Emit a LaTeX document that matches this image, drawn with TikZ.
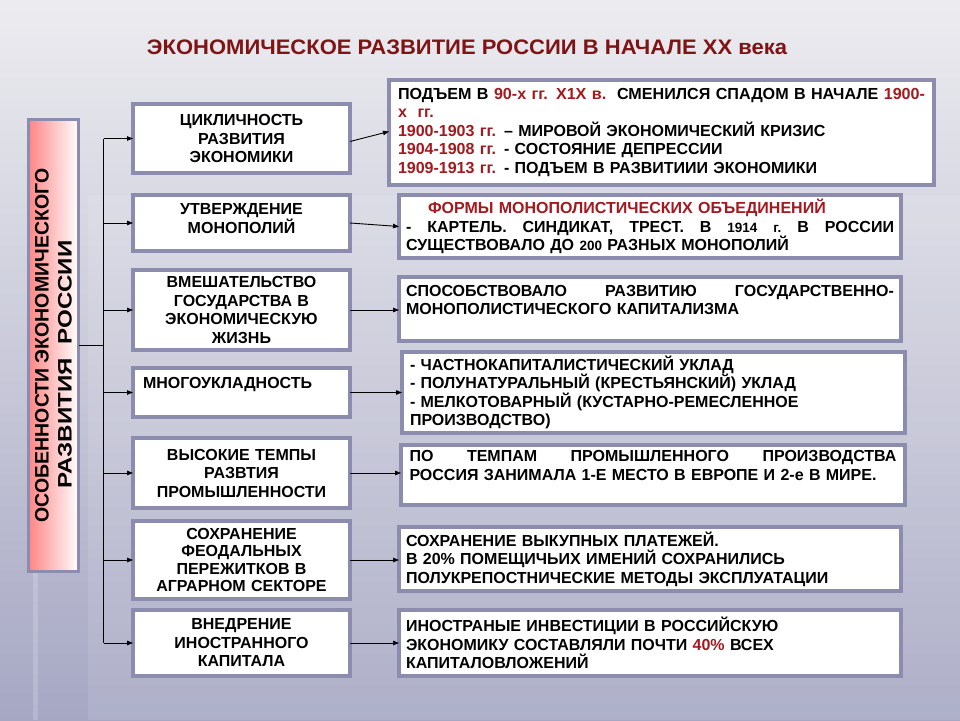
\documentclass[tikz,border=0pt]{standalone}
\usepackage{fontspec}
\setmainfont{Liberation Sans}
\usetikzlibrary{arrows.meta,calc}
\definecolor{bgtop}{HTML}{ECECF0}
\definecolor{bgbot}{HTML}{A6A7C3}
\definecolor{boxborder}{HTML}{8C8CAE}
\definecolor{titlered}{HTML}{7E1416}
\definecolor{txtred}{HTML}{A3191E}
\definecolor{sidered}{HTML}{FF8585}
\newcommand{\rd}[1]{\textcolor{txtred}{#1}}
\newcommand{\fitw}[2]{\resizebox{#1}{\height}{#2}}
\newcommand{\jline}[2]{\leavevmode\hbox to #1{#2}}
\newcommand{\sm}{\fontsize{13.5}{18}\selectfont}
\begin{document}
\begin{tikzpicture}[x=1pt,y=-1pt,
  box/.style={draw=boxborder,line width=3.5pt,fill=white,anchor=north west,inner sep=0pt,outer sep=0pt},
  lbox/.style={box,minimum width=217pt,align=center,text width=205pt,font=\fontsize{16}{18.5}\selectfont\bfseries},
  rbox/.style={box,align=left,font=\fontsize{16}{18.5}\selectfont\bfseries},
  arr/.style={-{Triangle[length=6pt,width=4.5pt]},line width=0.9pt,black}]
% background
\shade[top color=bgtop,bottom color=bgbot] (0,0) rectangle (960,720);
\fill[white,opacity=0.10] (88,195) rectangle (960,720);
\fill[white,opacity=0.18] (33,573) rectangle (38,720);
\useasboundingbox (0,0) rectangle (960,720);
% title
\node[font=\fontsize{21}{24}\selectfont\bfseries,text=titlered] (title) at (467,47)
  {\fitw{640pt}{ЭКОНОМИЧЕСКОЕ РАЗВИТИЕ РОССИИ В НАЧАЛЕ XX века}};
% side box
\node[draw=boxborder,line width=3pt,left color=sidered,right color=white,
  minimum width=50pt,minimum height=452pt,anchor=north west,inner sep=0pt,outer sep=0pt] (side) at (28.5,119.5) {};
\node[rotate=90,align=center,font=\fontsize{19.5}{23}\selectfont\bfseries] (sidetext) at (side.center)
  {ОСОБЕННОСТИ ЭКОНОМИЧЕСКОГО\\ \fitw{248pt}{РАЗВИТИЯ\ \ РОССИИ}\hspace*{38pt}};
% left boxes
\node[lbox,minimum height=69pt] (l1) at (133,104) {ЦИКЛИЧНОСТЬ\\ РАЗВИТИЯ\\ ЭКОНОМИКИ};
\node[lbox,minimum height=56pt] (l2) at (133,195) {УТВЕРЖДЕНИЕ\\ МОНОПОЛИЙ\\[-9pt]\mbox{}};
\node[lbox,minimum height=80pt] (l3) at (133,270) {ВМЕШАТЕЛЬСТВО\\ ГОСУДАРСТВА В\\ ЭКОНОМИЧЕСКУЮ\\ ЖИЗНЬ};
\node[lbox,minimum height=49pt,align=left,text width=197pt] (l4) at (133,368) {МНОГОУКЛАДНОСТЬ\\ \mbox{}};
\node[lbox,minimum height=70pt] (l5) at (133,438) {ВЫСОКИЕ ТЕМПЫ\\ РАЗВТИЯ\\ ПРОМЫШЛЕННОСТИ};
\node[lbox,minimum height=78pt,font=\fontsize{16}{17.5}\selectfont\bfseries] (l6) at (133,521) {СОХРАНЕНИЕ\\ ФЕОДАЛЬНЫХ\\ ПЕРЕЖИТКОВ В\\ АГРАРНОМ СЕКТОРЕ};
\node[lbox,minimum height=66pt] (l7) at (133,610) {ВНЕДРЕНИЕ\\ ИНОСТРАННОГО\\ КАПИТАЛА};
% right boxes
\node[rbox,minimum width=545pt,minimum height=105pt,text width=527pt] (r1) at (389,80) {%
  \fitw{527pt}{ПОДЪЕМ В \rd{90-х гг. Х1Х в.}\ \ СМЕНИЛСЯ СПАДОМ В НАЧАЛЕ \rd{1900-}}\\
  \rd{х\ \ гг.}\\
  \rd{1900-1903 гг.} – МИРОВОЙ ЭКОНОМИЧЕСКИЙ КРИЗИС\\
  \rd{1904-1908 гг.} - СОСТОЯНИЕ ДЕПРЕССИИ\\
  \rd{1909-1913 гг.} - ПОДЪЕМ В РАЗВИТИИИ ЭКОНОМИКИ};
\node[rbox,minimum width=502pt,minimum height=63pt,text width=488pt] (r2) at (399,195) {%
  \hspace*{22pt}\rd{ФОРМЫ МОНОПОЛИСТИЧЕСКИХ ОБЪЕДИНЕНИЙ}\\
  \jline{488pt}{-\hfill КАРТЕЛЬ.\hfill СИНДИКАТ,\hfill ТРЕСТ.\hfill В\hfill {\sm 1914}\hfill {\sm г.}\hfill В\hfill РОССИИ}\\
  СУЩЕСТВОВАЛО ДО {\sm 200} РАЗНЫХ МОНОПОЛИЙ};
\node[rbox,minimum width=502pt,minimum height=64pt,text width=488pt] (r3) at (399,277) {%
  \jline{488pt}{СПОСОБСТВОВАЛО\hfill РАЗВИТИЮ\hfill ГОСУДАРСТВЕННО-}\\
  МОНОПОЛИСТИЧЕСКОГО КАПИТАЛИЗМА\\ \mbox{}};
\node[rbox,minimum width=503pt,minimum height=81pt,text width=487pt,font=\fontsize{16}{17.8}\selectfont\bfseries] (r4) at (402,352) {%
  - ЧАСТНОКАПИТАЛИСТИЧЕСКИЙ УКЛАД\\
  - ПОЛУНАТУРАЛЬНЫЙ (КРЕСТЬЯНСКИЙ) УКЛАД\\
  - МЕЛКОТОВАРНЫЙ (КУСТАРНО-РЕМЕСЛЕННОЕ\\
  ПРОИЗВОДСТВО)};
\node[rbox,minimum width=504pt,minimum height=60pt,text width=487pt,font=\fontsize{16}{19.5}\selectfont\bfseries] (r5) at (401,445) {%
  \jline{487pt}{ПО\hfill ТЕМПАМ\hfill ПРОМЫШЛЕННОГО\hfill ПРОИЗВОДСТВА}\\
  РОССИЯ ЗАНИМАЛА 1-Е МЕСТО В ЕВРОПЕ И 2-е В МИРЕ.\\ \mbox{}};
\node[rbox,minimum width=502pt,minimum height=64pt,text width=488pt] (r6) at (399,527) {%
  СОХРАНЕНИЕ ВЫКУПНЫХ ПЛАТЕЖЕЙ.\\
  В 20\% ПОМЕЩИЧЬИХ ИМЕНИЙ СОХРАНИЛИСЬ\\
  ПОЛУКРЕПОСТНИЧЕСКИЕ МЕТОДЫ ЭКСПЛУАТАЦИИ};
\node[rbox,minimum width=502pt,minimum height=66pt,text width=488pt] (r7) at (399,610) {%
  ИНОСТРАНЫЕ ИНВЕСТИЦИИ В РОССИЙСКУЮ\\
  ЭКОНОМИКУ СОСТАВЛЯЛИ ПОЧТИ \rd{40\%} ВСЕХ\\
  КАПИТАЛОВЛОЖЕНИЙ};
% connectors
\draw[line width=0.9pt] (side.east) -- ++(25,0) coordinate (hub);
\draw[line width=0.9pt] (hub |- l1) -- (hub |- l7);
\foreach \n in {1,...,7}{
  \draw[arr] (hub |- l\n) -- (l\n.west);
}
\draw[arr] ([yshift=-3pt]l1.east) -- ([yshift=1pt]r1.west);
\draw[arr] (l2.east) -- (r2.west);
\foreach \n in {3,...,7}{
  \draw[arr] (l\n.east) -- (l\n.east -| r\n.west);
}
\end{tikzpicture}
\end{document}
